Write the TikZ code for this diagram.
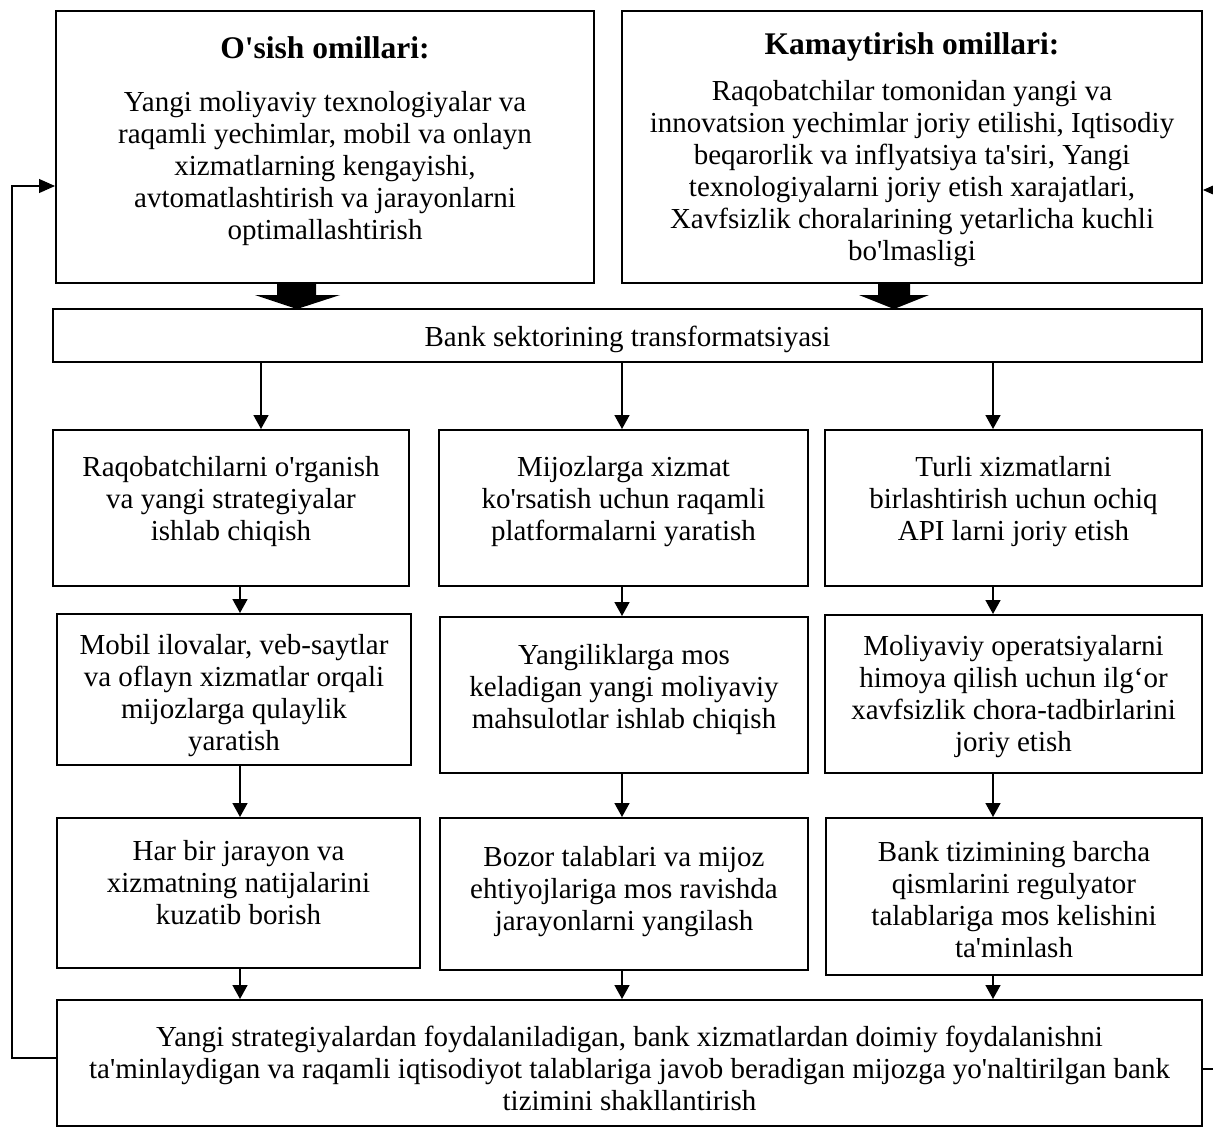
\documentclass[tikz,border=0pt]{standalone}
\usepackage{fontspec}
\newfontfamily\mainf{Liberation Serif}
\usetikzlibrary{arrows.meta}
\begin{document}
\begin{tikzpicture}[x=1pt,y=-1pt,
  font=\mainf\fontsize{29}{32}\selectfont,
  box/.style={draw=black,line width=2pt,inner sep=0pt,rectangle},
  txt/.style={align=center,inner sep=0pt},
  ttl/.style={align=center,inner sep=0pt,font=\mainf\bfseries\fontsize{31.5}{34}\selectfont},
  arr/.style={line width=1.6pt,-{Triangle[width=15pt,length=14pt]}},
  fb/.style={line width=1.1pt,-{Triangle[width=14pt,length=16pt]}},
  blockarrow/.style={fill=black,draw=none}]
\useasboundingbox (0,0) rectangle (1213,1128);
% top boxes
\node[box,minimum width=538,minimum height=272] (TL) at (325,147) {};
\node[ttl] (TLh) at (325,48) {O'sish omillari:};
\node[txt] (TLt) at (325,169) {Yangi moliyaviy texnologiyalar va\\raqamli yechimlar, mobil va onlayn\\xizmatlarning kengayishi,\\avtomatlashtirish va jarayonlarni\\optimallashtirish};
\node[box,minimum width=580,minimum height=272] (TR) at (912,147) {};
\node[ttl] (TRh) at (912,47) {Kamaytirish omillari:};
\node[txt] (TRt) at (912,174) {Raqobatchilar tomonidan yangi va\\innovatsion yechimlar joriy etilishi, Iqtisodiy\\beqarorlik va inflyatsiya ta'siri, Yangi\\texnologiyalarni joriy etish xarajatlari,\\Xavfsizlik choralarining yetarlicha kuchli\\bo'lmasligi};
% transformation box
\node[box,minimum width=1149,minimum height=53] (T) at (627.5,335.5) {};
\node[txt] (Tt) at (627.5,339) {Bank sektorining transformatsiyasi};
% block arrows
\fill[blockarrow] (277,283) -- (316,283) -- (316,295) -- (340,295) -- (297,309) -- (255,295) -- (277,295) -- cycle;
\fill[blockarrow] (878,283) -- (910,283) -- (910,295) -- (929,295) -- (894,309) -- (859,295) -- (878,295) -- cycle;
% row 1
\node[box,minimum width=356,minimum height=156] (R1L) at (231,508) {};
\node[txt] (R1Lt) at (231,502) {Raqobatchilarni o'rganish\\va yangi strategiyalar\\ishlab chiqish};
\node[box,minimum width=369,minimum height=156] (R1M) at (623.5,508) {};
\node[txt] (R1Mt) at (623.5,502) {Mijozlarga xizmat\\ko'rsatish uchun raqamli\\platformalarni yaratish};
\node[box,minimum width=377,minimum height=156] (R1R) at (1013.5,508) {};
\node[txt] (R1Rt) at (1013.5,502) {Turli xizmatlarni\\birlashtirish uchun ochiq\\API larni joriy etish};
% row 2
\node[box,minimum width=354,minimum height=151] (R2L) at (234,689.5) {};
\node[txt] (R2Lt) at (234,696) {Mobil ilovalar, veb-saytlar\\va oflayn xizmatlar orqali\\mijozlarga qulaylik\\yaratish};
\node[box,minimum width=368,minimum height=156] (R2M) at (624,695) {};
\node[txt] (R2Mt) at (624,690) {Yangiliklarga mos\\keladigan yangi moliyaviy\\mahsulotlar ishlab chiqish};
\node[box,minimum width=377,minimum height=158] (R2R) at (1013.5,694) {};
\node[txt] (R2Rt) at (1013.5,697) {Moliyaviy operatsiyalarni\\himoya qilish uchun ilg‘or\\xavfsizlik chora-tadbirlarini\\joriy etish};
% row 3
\node[box,minimum width=363,minimum height=150] (R3L) at (238.5,893) {};
\node[txt] (R3Lt) at (238.5,883) {Har bir jarayon va\\xizmatning natijalarini\\kuzatib borish};
\node[box,minimum width=368,minimum height=152] (R3M) at (624,894) {};
\node[txt] (R3Mt) at (624,892) {Bozor talablari va mijoz\\ehtiyojlariga mos ravishda\\jarayonlarni yangilash};
\node[box,minimum width=376,minimum height=157] (R3R) at (1014,896.5) {};
\node[txt] (R3Rt) at (1014,900) {Bank tizimining barcha\\qismlarini regulyator\\talablariga mos kelishini\\ta'minlash};
% bottom
\node[box,minimum width=1145,minimum height=126] (B) at (629.5,1063) {};
\node[txt] (Bt) at (629.5,1068) {Yangi strategiyalardan foydalaniladigan, bank xizmatlardan doimiy foydalanishni\\ta'minlaydigan va raqamli iqtisodiyot talablariga javob beradigan mijozga yo'naltirilgan bank\\tizimini shakllantirish};
% column coordinates
\coordinate (c0) at (261,0);
\coordinate (c1) at (240,0);
\coordinate (c2) at (622,0);
\coordinate (c3) at (993,0);
% arrows
\draw[arr] (T.south -| c0) -- (R1L.north -| c0);
\draw[arr] (T.south -| c2) -- (R1M.north -| c2);
\draw[arr] (T.south -| c3) -- (R1R.north -| c3);
\draw[arr] (R1L.south -| c1) -- (R2L.north -| c1);
\draw[arr] (R1M.south -| c2) -- (R2M.north -| c2);
\draw[arr] (R1R.south -| c3) -- (R2R.north -| c3);
\draw[arr] (R2L.south -| c1) -- (R3L.north -| c1);
\draw[arr] (R2M.south -| c2) -- (R3M.north -| c2);
\draw[arr] (R2R.south -| c3) -- (R3R.north -| c3);
\draw[arr] (R3L.south -| c1) -- (B.north -| c1);
\draw[arr] (R3M.south -| c2) -- (B.north -| c2);
\draw[arr] (R3R.south -| c3) -- (B.north -| c3);
% feedback loops
\coordinate (fl1) at (12,1058);
\coordinate (fl2) at (12,186);
\draw[fb] (B.west |- fl1) -- (fl1) -- (fl2) -- (TL.west |- fl2);
\coordinate (fr1) at (1230,1069);
\coordinate (fr2) at (1230,190);
\draw[fb] (B.east |- fr1) -- (fr1) -- (fr2) -- (TR.east |- fr2);
\end{tikzpicture}
\end{document}
